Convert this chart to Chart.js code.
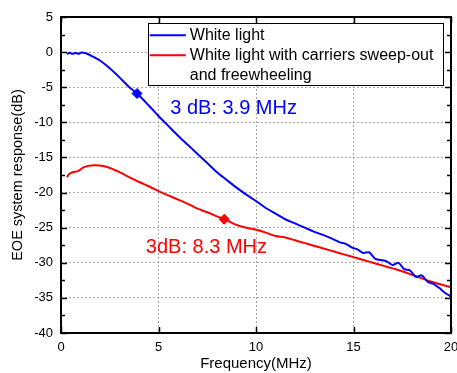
<!DOCTYPE html>
<html lang="en">
<head>
    <meta charset="UTF-8">
    <title>EOE system response</title>
    <script src="https://cdn.jsdelivr.net/npm/chart.js@4/dist/chart.umd.min.js"></script>
    <style>
        html, body { margin: 0; padding: 0; background: #fff; }
        canvas { display: block; }
    </style>
</head>
<body>
    <canvas id="eoeChart" width="457" height="373"></canvas>

    <script>
        // Data
        const seriesNames = ['White light', 'White light with carriers sweep-out|and freewheeling'];

        const whiteFreq = [0.3, 0.45, 0.6, 0.75, 0.9, 1.05, 1.3, 1.6, 2.0, 2.5, 3.0, 3.5, 3.9, 4.5, 5.0, 5.5, 6.0, 6.5, 7.0, 7.5,
            8.0, 8.5, 9.0, 9.5, 10.0, 10.5, 11.0, 11.5, 12.0, 12.5, 13.0, 13.5, 14.0, 14.3, 14.6, 14.9, 15.2, 15.5, 15.8, 16.1,
            16.4, 16.7, 17.0, 17.3, 17.6, 17.9, 18.2, 18.5, 18.8, 19.1, 19.4, 19.7, 20.0];
        const whiteDb = [-0.3, -0.1, -0.25, -0.1, -0.25, -0.05, -0.2, -0.6, -1.2, -2.3, -3.6, -5.0, -5.9, -7.6, -9.1, -10.5, -11.9, -13.2, -14.5, -15.8,
            -17.1, -18.2, -19.3, -20.3, -21.2, -22.2, -23.0, -23.8, -24.4, -25.0, -25.6, -26.1, -26.7, -27.1, -27.3, -27.8, -28.1, -28.6, -28.5, -29.4,
            -29.6, -29.8, -30.3, -30.0, -30.9, -31.1, -32.0, -31.8, -32.7, -33.0, -33.6, -34.3, -34.8];

        const sweepFreq = [0.3, 0.45, 0.6, 0.9, 1.15, 1.4, 1.7, 2.0, 2.4, 3.0, 3.5, 4.0, 4.5, 5.0, 5.5, 6.0, 6.5, 7.0, 7.5, 8.0,
            8.4, 9.0, 9.5, 10.0, 10.5, 11.0, 11.5, 12.0, 12.5, 13.0, 13.5, 14.0, 14.5, 15.0, 15.5, 16.0, 16.5, 17.0, 17.5, 18.0,
            18.5, 19.0, 19.5, 20.0];
        const sweepDb = [-17.8, -17.3, -17.1, -16.9, -16.4, -16.2, -16.1, -16.15, -16.4, -17.1, -17.8, -18.5, -19.1, -19.8, -20.4, -21.0, -21.6, -22.3, -22.8, -23.4,
            -23.8, -24.6, -25.0, -25.3, -25.7, -26.2, -26.4, -26.8, -27.2, -27.6, -28.0, -28.4, -28.8, -29.2, -29.6, -30.0, -30.4, -30.8, -31.2, -31.7,
            -32.2, -32.7, -33.1, -33.5];

        // 3 dB points
        const cutoffFreq = [3.9, 8.37];
        const cutoffDb = [-5.9, -23.8];
        const cutoffText = ['3 dB: 3.9 MHz', '3dB: 8.3 MHz'];

        const xTicks = [0, 5, 10, 15, 20];
        const yTicks = [5, 0, -5, -10, -15, -20, -25, -30, -35, -40];

        const BLUE = '#0000ff';
        const RED = '#ff0000';
        const FONT = 'Liberation Sans, Arial, sans-serif';

        const toPoints = (xs, ys) => xs.map((x, i) => ({ x: x, y: ys[i] }));

        // frame, inward ticks on all four sides, legend box and notes
        const decorPlugin = {
            id: 'decor',
            afterDraw(chart) {
                const c = chart.ctx;
                const a = chart.chartArea;
                const xs = chart.scales.x;
                const ys = chart.scales.y;
                c.save();
                c.strokeStyle = '#000';
                c.lineWidth = 1.5;
                // x ticks, top and bottom
                xTicks.forEach(v => {
                    const px = Math.round(xs.getPixelForValue(v)) + 0.5;
                    c.beginPath();
                    c.moveTo(px, a.bottom); c.lineTo(px, a.bottom - 6);
                    c.moveTo(px, a.top); c.lineTo(px, a.top + 6);
                    c.stroke();
                });
                // y ticks, major and minor, left and right
                for (let v = -40; v <= 5; v += 2.5) {
                    const py = Math.round(ys.getPixelForValue(v)) + 0.5;
                    const len = (v % 5 === 0) ? 6 : 4;
                    c.beginPath();
                    c.moveTo(a.left, py); c.lineTo(a.left + len, py);
                    c.moveTo(a.right, py); c.lineTo(a.right - len, py);
                    c.stroke();
                }
                // frame
                c.lineWidth = 2;
                c.strokeRect(a.left, a.top, a.right - a.left, a.bottom - a.top);

                // legend box
                const lx = xs.getPixelForValue(4.45);
                const lr = xs.getPixelForValue(19.6);
                const ly = ys.getPixelForValue(4.1);
                const lb = ys.getPixelForValue(-4.8);
                c.fillStyle = '#fff';
                c.fillRect(lx, ly, lr - lx, lb - ly);
                c.strokeStyle = '#000';
                c.lineWidth = 1;
                c.strokeRect(Math.round(lx) + 0.5, Math.round(ly) + 0.5, Math.round(lr - lx), Math.round(lb - ly));
                c.font = '16px ' + FONT;
                c.textBaseline = 'middle';
                c.fillStyle = '#000';
                let row = ly + 12;
                seriesNames.forEach((name, i) => {
                    const col = chart.data.datasets[i].borderColor;
                    c.strokeStyle = col;
                    c.lineWidth = 2;
                    c.beginPath();
                    c.moveTo(lx + 2, row); c.lineTo(lx + 38, row);
                    c.stroke();
                    name.split('|').forEach(line => {
                        c.fillText(line, lx + 42, row);
                        row += 20;
                    });
                });

                // notes next to the 3 dB points
                c.font = '20px ' + FONT;
                c.textBaseline = 'middle';
                c.fillStyle = BLUE;
                c.fillText(cutoffText[0], xs.getPixelForValue(5.6), ys.getPixelForValue(-8.0));
                c.fillStyle = RED;
                c.fillText(cutoffText[1], xs.getPixelForValue(4.35), ys.getPixelForValue(-27.8));
                c.restore();
            }
        };

        new Chart(document.getElementById('eoeChart'), {
            type: 'scatter',
            data: {
                datasets: [
                    { label: 'White light', data: toPoints(whiteFreq, whiteDb), showLine: true,
                      borderColor: BLUE, borderWidth: 2, pointRadius: 0, tension: 0.3 },
                    { label: 'Sweep-out', data: toPoints(sweepFreq, sweepDb), showLine: true,
                      borderColor: RED, borderWidth: 2, pointRadius: 0, tension: 0.3 },
                    { label: 'cut white', data: [{ x: cutoffFreq[0], y: cutoffDb[0] }],
                      pointStyle: 'rectRot', pointRadius: 5, backgroundColor: BLUE, borderColor: BLUE },
                    { label: 'cut sweep', data: [{ x: cutoffFreq[1], y: cutoffDb[1] }],
                      pointStyle: 'rectRot', pointRadius: 5, backgroundColor: RED, borderColor: RED }
                ]
            },
            options: {
                responsive: false,
                animation: false,
                layout: { padding: { top: 17, right: 4, left: 0, bottom: 0 } },
                plugins: { legend: { display: false }, tooltip: { enabled: false } },
                scales: {
                    x: {
                        type: 'linear', min: 0, max: 20,
                        afterBuildTicks: s => { s.ticks = xTicks.map(v => ({ value: v })); },
                        afterFit: s => { s.height = 40; s.paddingRight = 0; s.paddingLeft = 0; },
                        grid: { color: '#a8a8a8', lineWidth: 1, drawTicks: false },
                        border: { display: false, dash: [2, 2] },
                        ticks: { color: '#000', padding: 7, font: { family: FONT, size: 13 }, maxRotation: 0 },
                        title: { display: true, text: 'Frequency(MHz)', color: '#000', padding: { top: 0, bottom: 0 },
                                 font: { family: FONT, size: 15 } }
                    },
                    y: {
                        type: 'linear', min: -40, max: 5,
                        afterBuildTicks: s => { s.ticks = yTicks.map(v => ({ value: v })); },
                        afterFit: s => { s.width = 61; },
                        grid: { color: '#a8a8a8', lineWidth: 1, drawTicks: false },
                        border: { display: false, dash: [2, 2] },
                        ticks: { color: '#000', padding: 8, font: { family: FONT, size: 13 } },
                        title: { display: true, text: 'EOE system response(dB)', color: '#000', padding: { bottom: 0, top: 9 },
                                 font: { family: FONT, size: 14.5 } }
                    }
                }
            },
            plugins: [decorPlugin]
        });
    </script>
</body>
</html>
